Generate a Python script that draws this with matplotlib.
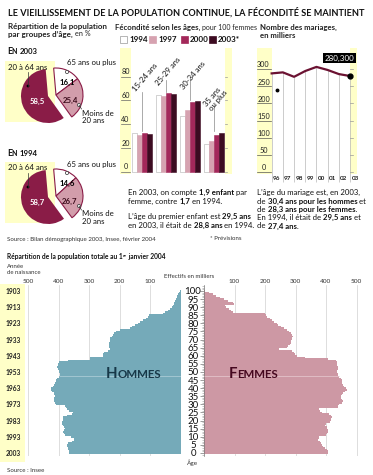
import matplotlib
matplotlib.use('Agg')
import matplotlib.pyplot as plt
from matplotlib.patches import Wedge, Rectangle, Circle
from matplotlib.ticker import MultipleLocator
import numpy as np

plt.rcParams['font.family'] = ['Liberation Sans Narrow', 'Lato', 'DejaVu Sans']
plt.rcParams['axes.unicode_minus'] = False

W, H = 373, 475

# ---- données ----
pie_2003 = [16.1, 25.4, 58.5]      # 65 ans ou plus, moins de 20 ans, 20 à 64 ans
pie_1994 = [14.6, 26.7, 58.7]

fec_groupes = ['15-24 ans', '25-29 ans', '30-34 ans', '35 ans\nou plus']
fec_annees = ['1994', '1997', '2000', '2003*']
fec_1994 = [33, 64.5, 47, 23]
fec_1997 = [31, 64, 52, 26]
fec_2000 = [33, 66.5, 58.5, 31]
fec_2003 = [32, 65.5, 59.5, 33]
fec_ticks = [0, 20, 40, 60, 80]

mar_annees = [1996, 1997, 1998, 1999, 2000, 2001, 2002, 2003]
mar_labels = ['96', '97', '98', '99', '00', '01', '02', '03']
mar_valeurs = [288, 291, 278, 295, 307, 298, 286, 280.3]
mar_point_x, mar_point_y = 1996.5, 239
mar_ticks = [0, 50, 100, 150, 200, 250, 300]

ages = np.arange(101)
hommes = [366, 366, 368, 370, 372, 372, 368, 355, 351, 351,
          360, 380, 382, 384, 382, 380, 381, 385, 388, 388,
          385, 386, 384, 372, 355, 352, 365, 372, 375, 378,
          408, 412, 414, 416, 414, 412, 414, 416, 422, 425,
          424, 418, 414, 411, 409, 408, 406, 400, 396, 396,
          398, 400, 402, 404, 403, 401, 400, 370, 297, 297,
          253, 253, 250, 238, 232, 236, 236, 235, 234, 232,
          231, 230, 226, 222, 218, 212, 200, 165, 160, 150,
          140, 132, 122, 112, 107, 104, 57, 50, 42, 34,
          28, 25, 22, 20, 18, 16, 13, 11, 9, 6, 2]
femmes = [405, 408, 404, 398, 390, 388, 384, 380, 375, 376,
          378, 400, 404, 408, 406, 404, 402, 398, 400, 414,
          416, 418, 419, 416, 410, 386, 380, 376, 440, 440,
          442, 452, 456, 452, 448, 450, 452, 456, 462, 468,
          466, 460, 456, 452, 451, 451, 448, 442, 440, 438,
          436, 437, 440, 438, 436, 437, 436, 432, 405, 330,
          304, 298, 294, 290, 245, 272, 276, 282, 285, 286,
          288, 290, 292, 288, 284, 280, 272, 262, 252, 244,
          238, 230, 222, 215, 206, 202, 200, 95, 88, 82,
          72, 70, 98, 95, 80, 64, 52, 40, 28, 15, 4]
eff_ticks = [100, 200, 300, 400, 500]
age_ticks = list(range(0, 101, 5))
annee_ages = [100, 90, 80, 70, 60, 50, 40, 30, 20, 10, 0]
annees = ['1903', '1913', '1923', '1933', '1943', '1953', '1963', '1973', '1983', '1993', '2003']

# ---- couleurs ----
jaune = '#ffffc8'
bordeaux = '#8a1c47'
rose = '#d29dab'
fec_couleurs = ['white', '#d6a2b0', '#a3285a', '#3c0b21']
ligne = '#6b1232'
bleu = '#75aab9'
rose_pyr = '#cd98a4'

fig = plt.figure(figsize=(W / 100, H / 100), dpi=100)
bg = fig.add_axes([0, 0, 1, 1])
bg.set_xlim(0, W)
bg.set_ylim(H, 0)
bg.axis('off')
renderer = fig.canvas.get_renderer()


def add_ax(x0, y0, x1, y1):
    return fig.add_axes([x0 / W, 1 - y1 / H, (x1 - x0) / W, (y1 - y0) / H])


def text_w(txt, size, weight):
    t = bg.text(0, 0, '|' + txt + '|', fontsize=size, fontweight=weight)
    w = t.get_window_extent(renderer).width
    t.set_text('||')
    w -= t.get_window_extent(renderer).width
    t.remove()
    return w


def rich(x, y, parts, size=5.6, color='#111', ax=None):
    ax = ax or bg
    for p in parts:
        txt, bold = p[0], p[1]
        sz = p[2] if len(p) > 2 else size
        dy = p[3] if len(p) > 3 else 0
        wt = 'bold' if bold else 'normal'
        ax.text(x, y - dy, txt, fontsize=sz, fontweight=wt, color=color, va='baseline')
        x += text_w(txt, sz, wt)
    return x


# ---- titre ----
titre = 'LE VIEILLISSEMENT DE LA POPULATION CONTINUE, LA FÉCONDITÉ SE MAINTIENT'
t = bg.text(8, 16, titre, fontsize=10, fontweight='bold', color='#111', va='baseline')
t.set_fontsize(10 * (365 - 8) / t.get_window_extent(renderer).width)

# ---- camemberts ----
bg.text(8, 28.5, 'Répartition de la population', fontsize=5.8, fontweight='bold', color='#222',
        va='baseline')
rich(8, 36.5, [('par groupes d’âge, ', True, 5.8), ('en %', False, 5.2)], color='#222')


def camembert(dy, vals, annee):
    v65, v20, v2064 = vals
    rich(7, 54.5 + dy, [('E', True, 6.4), ('N ', True, 5.0), (annee, True, 5.6)])
    bg.add_patch(Rectangle((5, 61 + dy), 50, 61, fc=jaune, ec='none'))
    depart = 95
    a1 = depart - 3.6 * v65
    a2 = a1 - 3.6 * v20
    r = 27
    bg.add_patch(Wedge((48, 96 + dy), r, -(a2 + 360), -depart, fc=bordeaux, ec='none'))
    bg.add_patch(Wedge((56, 95 + dy), r, -depart, -a1, fc='white', ec=bordeaux, lw=0.8))
    bg.add_patch(Wedge((56, 95 + dy), r, -a1, -a2, fc=rose, ec=bordeaux, lw=0.8))
    fmt = lambda v: f'{v:.1f}'.replace('.', ',')
    bg.text(37, 101 + dy, fmt(v2064), color='white', fontsize=5.6, fontweight='bold', ha='center', va='center')
    bg.text(67, 82 + dy, fmt(v65), color='black', fontsize=5.6, fontweight='bold', ha='center', va='center')
    bg.text(70, 100 + dy, fmt(v20), color='#3a0a1a', fontsize=5.6, fontweight='bold', ha='center', va='center')
    bg.text(8, 69.5 + dy, '20 à 64 ans', fontsize=5.6, color='#111', va='baseline')
    bg.plot([28, 28], [86 + dy, 72 + dy], color='#333', lw=0.5)
    bg.add_patch(Circle((28, 86 + dy), 1.4, fc='black', ec='none'))
    bg.text(67, 65.5 + dy, '65 ans ou plus', fontsize=5.6, color='#111', va='baseline')
    bg.add_patch(Circle((67, 72 + dy), 1.6, fc='white', ec='#333', lw=0.5))
    bg.text(82, 115.5 + dy, 'Moins de', fontsize=5.6, color='#111', va='baseline')
    bg.text(82, 123 + dy, '20 ans', fontsize=5.6, color='#111', va='baseline')
    bg.plot([79, 81.5], [105 + dy, 109 + dy], color='#333', lw=0.5)
    bg.add_patch(Circle((79, 105 + dy), 1.6, fc='white', ec='#333', lw=0.5))


camembert(0, pie_2003, '2003')
camembert(101, pie_1994, '1994')

# ---- fécondité ----
rich(115, 30, [('Fécondité selon les âges, ', True, 5.6), ('pour 100 femmes', False, 5.0)], color='#222')
leg_x = [120, 149, 181, 209]
for lx, lab, col in zip(leg_x, fec_annees, fec_couleurs):
    bg.add_patch(Rectangle((lx, 36), 6.5, 6.5, fc=col, ec='#999' if col == 'white' else col, lw=0.5))
    bg.text(lx + 9, 41.8, lab, fontsize=5.8, fontweight='bold', color='#111', va='baseline')

axb = add_ax(120, 48, 232, 174)
axb.set_xlim(-0.917, 3.75)
axb.set_ylim(-1.9, 104.2)
axb.axis('off')
axb.axvspan(-0.917, -0.46, color=jaune, lw=0, zorder=0)
axb.axvspan(3.46, 3.75, color=jaune, lw=0, zorder=0)
xg = np.arange(len(fec_groupes))
for j, (vals, col) in enumerate(zip([fec_1994, fec_1997, fec_2000, fec_2003], fec_couleurs)):
    axb.bar(xg + (j - 1.5) * 0.21, vals, width=0.2, color=col,
            edgecolor='#b0b0b0' if col == 'white' else col, linewidth=0.4, zorder=3)
for v in fec_ticks:
    axb.plot([-0.88, -0.5], [v, v], color='#666', lw=0.5)
    axb.plot([3.46, 3.56], [v, v], color='#999', lw=0.5)
    axb.text(-0.69, v + 1.2, str(v), ha='center', va='bottom', fontsize=5.2, color='#222')
cat_x = [-0.21, 0.75, 1.80, 2.95]
cat_y = [67, 71.5, 68, 50]
trait_haut = [67, 77, 79, 56]
for i, lab in enumerate(fec_groupes):
    haut = max(fec_1994[i], fec_1997[i], fec_2000[i], fec_2003[i])
    axb.plot([i, i], [haut + 1, trait_haut[i]], color='#888', lw=0.5, zorder=1)
    axb.text(cat_x[i], cat_y[i], lab, rotation=50, rotation_mode='anchor', ha='left', va='bottom',
             fontsize=5.6, color='#111', linespacing=1.0)

rich(128, 195, [('En 2003, on compte ', False), ('1,9 enfant', True), (' par', False)])
rich(128, 203.5, [('femme, contre ', False), ('1,7', True), (' en 1994.', False)])
rich(128, 219, [('L’âge du premier enfant est ', False), ('29,5 ans', True)])
rich(128, 227.5, [('en 2003, il était de ', False), ('28,8 ans', True), (' en 1994.', False)])

# ---- mariages ----
bg.text(260, 30, 'Nombre des mariages,', fontsize=5.6, fontweight='bold', color='#222', va='baseline')
bg.text(260, 38, 'en milliers', fontsize=5.6, fontweight='bold', color='#222', va='baseline')
axl = add_ax(257, 48, 357, 174)
axl.set_xlim(1994.69, 2003.62)
axl.set_ylim(-6.7, 362.4)
axl.axis('off')
axl.axvspan(1994.69, 1996, color=jaune, lw=0, zorder=0)
axl.axvspan(2003, 2003.62, color=jaune, lw=0, zorder=0)
axl.vlines(mar_annees, -29, mar_valeurs, color='#b8b8b8', lw=0.5, zorder=1, clip_on=False)
axl.plot(mar_annees, mar_valeurs, color=ligne, lw=1.6, zorder=3)
axl.plot(mar_annees[-1], mar_valeurs[-1], 'o', color='black', ms=3.5, zorder=4)
axl.plot(mar_point_x, mar_point_y, 'o', color='black', ms=1.8, zorder=4)
for v in mar_ticks:
    axl.plot([1994.72, 1995.9], [v, v], color='#555', lw=0.5)
    axl.plot([2003.02, 2003.3], [v, v], color='#999', lw=0.5)
    axl.text(1995.27, v + 2.5, str(v), ha='center', va='bottom', fontsize=5.2, color='#222')
for yr, lab in zip(mar_annees, mar_labels):
    axl.text(yr + 0.45, -19, lab, ha='center', va='center', fontsize=4.6, fontweight='bold',
             color='#222', clip_on=False)
axl.text(2002.05, 333, f'{mar_valeurs[-1]:.3f}'.replace('.', ','), color='white', fontsize=5.8,
         ha='center', va='center', bbox=dict(fc='black', ec='none', pad=1.3), zorder=5)

rich(257, 195, [('L’âge du mariage est, en 2003,', False)])
rich(257, 203.5, [('de ', False), ('30,4 ans pour les hommes', True), (' et', False)])
rich(257, 211.8, [('de ', False), ('28,3 ans pour les femmes.', True)])
rich(257, 220.1, [('En 1994, il était de ', False), ('29,5 ans', True), (' et', False)])
rich(257, 228.4, [('de ', False), ('27,4 ans.', True)])

bg.text(7, 240.5, 'Source : Bilan démographique 2003, Insee, février 2004', fontsize=4.4, color='#333',
        va='baseline')
bg.text(241, 240.5, '* Prévisions', fontsize=4.4, color='#333', va='baseline', ha='right')

# ---- pyramide ----
rich(7, 259, [('Répartition de la population totale au 1', True, 4.8), ('er', True, 3.2, 2.0),
              (' janvier 2004', True, 4.8)], color='#111')
bg.text(7, 267.5, 'Année', fontsize=4.3, color='#333', va='baseline')
bg.text(7, 273.5, 'de naissance', fontsize=4.3, color='#333', va='baseline')
bg.text(189, 278.5, 'Effectifs en milliers', fontsize=4.3, color='#333', va='baseline', ha='center')
bg.add_patch(Rectangle((0, 284), 25, 178, fc=jaune, ec='none'))
bg.text(193, 465.5, 'Âge', fontsize=4.6, color='#333', va='baseline', ha='center')
bg.text(7, 471.5, 'Source : Insee', fontsize=4.4, color='#333', va='baseline')

axm = add_ax(22, 285, 180.5, 456)
axf = add_ax(204, 285, 362, 456)
axm.barh(ages, hommes, height=1.0, color=bleu, linewidth=0, zorder=2)
axf.barh(ages, femmes, height=1.0, color=rose_pyr, linewidth=0, zorder=2)
axm.set_xlim(520, 0)
axf.set_xlim(0, 518)
for ax in (axm, axf):
    ax.set_facecolor('none')
    ax.set_ylim(-1.9, 103.7)
    for v in eff_ticks:
        ax.axvline(v, color='#d0d0d0', lw=0.5, zorder=0)
    ax.xaxis.tick_top()
    ax.set_xticks(eff_ticks)
    ax.tick_params(axis='x', length=0, labelsize=4.6, pad=1, labelcolor='#333')
    for s in ax.spines.values():
        s.set_visible(False)
axm.hlines(47.2, 0, hommes[47], color='#a9cbd5', lw=0.6, zorder=3)
axf.hlines(47.2, 0, femmes[47], color='#e3c3ca', lw=0.6, zorder=3)

axm.set_yticks(annee_ages, annees)
axm.tick_params(axis='y', length=0, labelsize=4.8, pad=0.8, labelcolor='#222')
for lab in axm.get_yticklabels():
    lab.set_fontweight('bold')

axf.set_yticks(age_ticks, [str(a) for a in age_ticks])
axf.yaxis.set_minor_locator(MultipleLocator(1))
axf.tick_params(axis='y', which='major', length=2.9, width=0.5, color='#777', labelsize=7, pad=5,
                labelcolor='#111')
axf.tick_params(axis='y', which='minor', length=1.8, width=0.4, color='#999')
axf.spines['left'].set_visible(True)
axf.spines['left'].set_linewidth(0.5)
axf.spines['left'].set_color('#777')
plt.setp(axf.get_yticklabels(), ha='center')

# étiquettes par-dessus la pyramide
fg = fig.add_axes([0, 0, 1, 1])
fg.set_xlim(0, W)
fg.set_ylim(H, 0)
fg.axis('off')
rich(106, 378, [('H', True, 10.8), ('OMMES', True, 8.3)], color='#173848', ax=fg)
rich(229, 378, [('F', True, 10.8), ('EMMES', True, 8.3)], color='#45081f', ax=fg)

fig.savefig('out.png', dpi=100)
